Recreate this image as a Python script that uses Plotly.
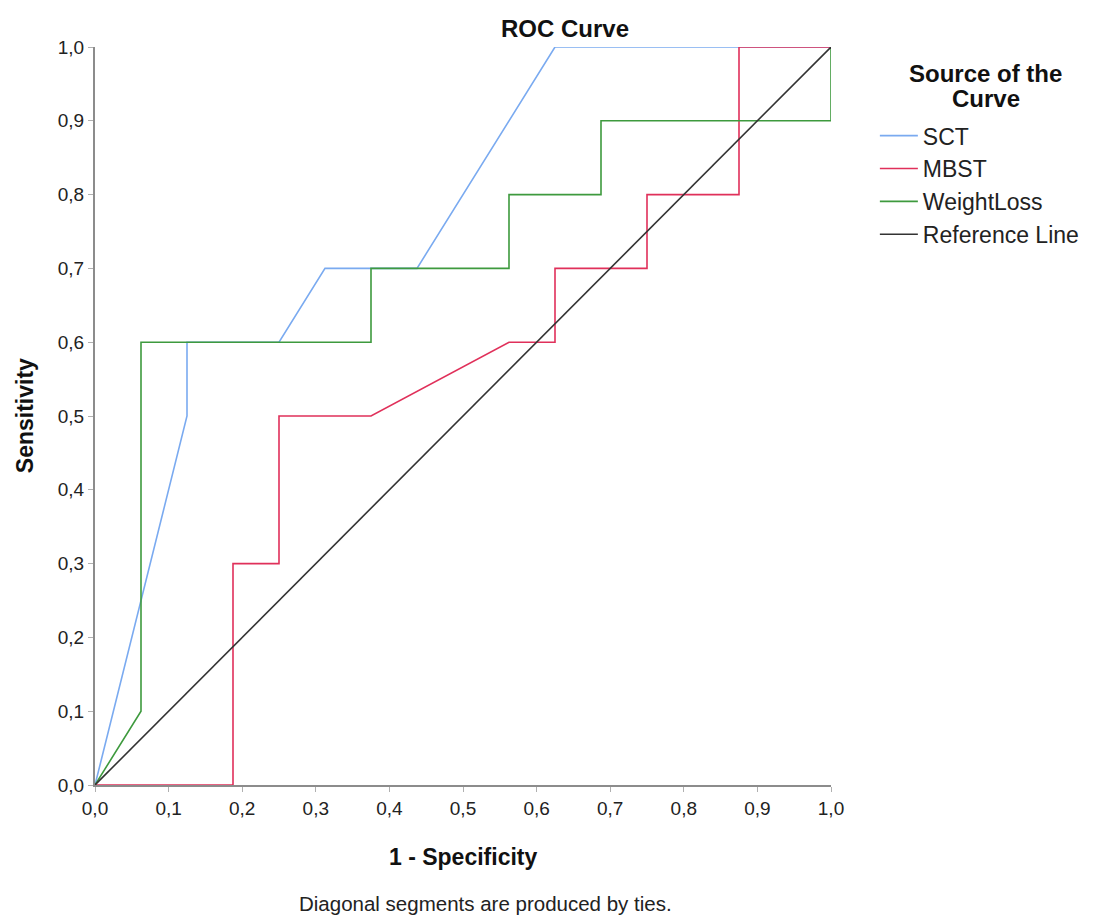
import plotly.graph_objects as go

# ROC data (1 - Specificity, Sensitivity)
sct_x = [0, 0.125, 0.125, 0.25, 0.3125, 0.4375, 0.625, 1.0]
sct_y = [0, 0.5, 0.6, 0.6, 0.7, 0.7, 1.0, 1.0]

mbst_x = [0, 0.1875, 0.1875, 0.25, 0.25, 0.375, 0.5625, 0.625, 0.625, 0.75, 0.75, 0.875, 0.875, 1.0]
mbst_y = [0, 0, 0.3, 0.3, 0.5, 0.5, 0.6, 0.6, 0.7, 0.7, 0.8, 0.8, 1.0, 1.0]

wl_x = [0, 0.0625, 0.0625, 0.375, 0.375, 0.5625, 0.5625, 0.6875, 0.6875, 1.0, 1.0]
wl_y = [0, 0.1, 0.6, 0.6, 0.7, 0.7, 0.8, 0.8, 0.9, 0.9, 1.0]

ref_x = [0, 1]
ref_y = [0, 1]

tick_vals = [0, 0.1, 0.2, 0.3, 0.4, 0.5, 0.6, 0.7, 0.8, 0.9, 1.0]
tick_text = ["0,0", "0,1", "0,2", "0,3", "0,4", "0,5", "0,6", "0,7", "0,8", "0,9", "1,0"]

FONT = "Liberation Sans, Arial, sans-serif"

fig = go.Figure()
series = [
    ("SCT", sct_x, sct_y, "#7aaaf0"),
    ("MBST", mbst_x, mbst_y, "#e0305a"),
    ("WeightLoss", wl_x, wl_y, "#3e9a3e"),
    ("Reference Line", ref_x, ref_y, "#333333"),
]
for name, xs, ys, col in series:
    fig.add_trace(go.Scatter(
        x=xs, y=ys, mode="lines", name=name, legendgroup=name,
        line=dict(color=col, width=1.6),
        hoverinfo="skip",
    ))

axis_common = dict(
    range=[0, 1], tickvals=tick_vals, ticktext=tick_text,
    showgrid=False, zeroline=False, showline=True,
    linecolor="#8c8c8c", linewidth=2,
    ticks="outside", ticklen=5, tickcolor="#b0b0b0", tickwidth=1,
    tickfont=dict(family=FONT, size=19, color="#222222"),
)

fig.update_layout(
    width=1088, height=907,
    paper_bgcolor="white", plot_bgcolor="white",
    margin=dict(l=87, r=263, t=39, b=130),
    font=dict(family=FONT, color="#111111"),
    showlegend=True,
    legend=dict(
        x=1.0596, xanchor="left", y=0.909, yanchor="top",
        font=dict(family=FONT, size=23, color="#222222"),
        tracegroupgap=0, itemwidth=38,
        bgcolor="rgba(0,0,0,0)",
    ),
    xaxis=dict(**axis_common),
    yaxis=dict(**axis_common),
    annotations=[
        dict(text="<b>ROC Curve</b>", x=0.638, y=1.0257, xref="paper", yref="paper",
             showarrow=False, yanchor="middle", font=dict(family=FONT, size=24, color="#111111")),
        dict(text="<b>Source of the</b>", x=1.21, y=0.964, xref="paper", yref="paper",
             showarrow=False, yanchor="middle", xanchor="center",
             font=dict(family=FONT, size=24, color="#111111")),
        dict(text="<b>Curve</b>", x=1.21, y=0.930, xref="paper", yref="paper",
             showarrow=False, yanchor="middle", xanchor="center",
             font=dict(family=FONT, size=24, color="#111111")),
        dict(text="<b>1 - Specificity</b>", x=0.5, y=-0.0976, xref="paper", yref="paper",
             showarrow=False, yanchor="middle", font=dict(family=FONT, size=23, color="#111111")),
        dict(text="<b>Sensitivity</b>", x=-0.0949, y=0.5, xref="paper", yref="paper",
             showarrow=False, textangle=-90, xanchor="center", yanchor="middle",
             font=dict(family=FONT, size=23, color="#111111")),
        dict(text="Diagonal segments are produced by ties.", x=0.53, y=-0.16,
             xref="paper", yref="paper", showarrow=False, yanchor="middle",
             font=dict(family=FONT, size=20.5, color="#222222")),
    ],
)

fig.write_html("out.html")
